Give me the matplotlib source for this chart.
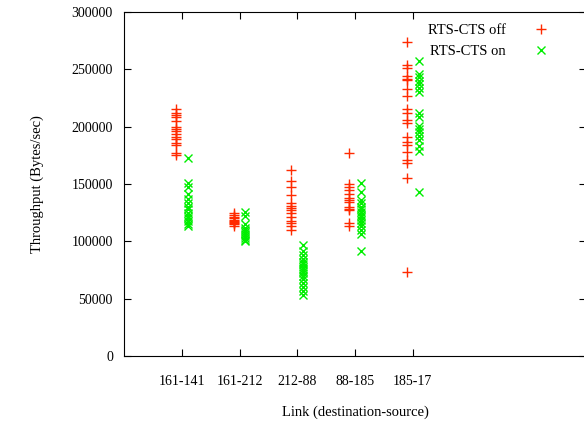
import numpy as np
import matplotlib
matplotlib.use("Agg")
import matplotlib.pyplot as plt

plt.rcParams['font.family'] = ['Liberation Serif', 'DejaVu Serif']

links = ["161-141", "161-212", "212-88", "88-185", "185-17"]

# throughput samples per link (Bytes/sec)
off_161_141 = [215000, 212000, 210000, 208000, 205000, 200000, 198000, 196000, 194000,
               191000, 189000, 186000, 184000, 177000, 175000]
on_161_141 = [173000, 151000, 147000, 141000, 137000, 133000, 130000, 128000, 125000,
              122000, 120000, 118000, 115000, 113000]

off_161_212 = [125000, 123000, 121000, 120000, 119000, 118000, 117000, 116000, 115000, 113000]
on_161_212 = [126000, 122000, 115000, 112000, 110000, 108000, 106000, 105000, 103000,
              101000, 100000]

off_212_88 = [162000, 153000, 147000, 140000, 133000, 131000, 129000, 127000, 125000,
              121000, 118000, 116000, 113000, 110000]
on_212_88 = [97000, 92000, 88000, 85000, 82000, 80000, 78000, 76000, 74000, 72000,
             70000, 67000, 64000, 60000, 57000, 53000]

off_88_185 = [177000, 150000, 147000, 145000, 141000, 138000, 136000, 134000, 130000,
              128000, 127000, 116000, 113000]
on_88_185 = [151000, 143000, 136000, 133000, 130000, 128000, 126000, 123000, 121000,
             119000, 116000, 113000, 110000, 106000, 92000]

off_185_17 = [274000, 254000, 251000, 244000, 242000, 241000, 233000, 227000, 215000,
              212000, 206000, 203000, 191000, 187000, 184000, 178000, 171000, 168000,
              155000, 73000]
on_185_17 = [257000, 246000, 243000, 240000, 237000, 234000, 230000, 212000, 208000,
             201000, 198000, 195000, 192000, 188000, 183000, 179000, 143000]

rts_off = [off_161_141, off_161_212, off_212_88, off_88_185, off_185_17]
rts_on = [on_161_141, on_161_212, on_212_88, on_88_185, on_185_17]

fig = plt.figure(figsize=(5.84, 4.23), dpi=100)
ax = fig.add_axes([124 / 584, 67 / 423, 462 / 584, 344 / 423])

for i, (off, on) in enumerate(zip(rts_off, rts_on)):
    pos = i + 1
    ax.plot(np.full(len(off), pos - 0.1), off, ls="none", marker="+", ms=7, mew=1,
            color="#ff2a00", label="RTS-CTS off" if i == 0 else None)
    ax.plot(np.full(len(on), pos + 0.1), on, ls="none", marker="x", ms=6, mew=1,
            color="#00ee00", label="RTS-CTS on" if i == 0 else None)

ax.set_xlim(0, 8)
ax.set_ylim(0, 300000)
ax.set_xticks(range(1, len(links) + 1))
ax.set_xticklabels(links)
ax.set_yticks(np.arange(0, 300001, 50000))
ax.tick_params(direction="in", top=True, right=True, length=5, labelsize=10, pad=8)
ax.tick_params(axis="x", pad=14)

ax.set_xlabel("Link (destination-source)", fontsize=10.5, labelpad=12)
ax.set_ylabel("Throughput (Bytes/sec)", fontsize=10.5, labelpad=20)

ax.legend(loc="upper right", bbox_to_anchor=(0.955, 1.005), frameon=False, fontsize=10.5,
          markerfirst=False, handlelength=1.5, handletextpad=1.7, labelspacing=0.55)

fig.savefig("out.png", dpi=100)
